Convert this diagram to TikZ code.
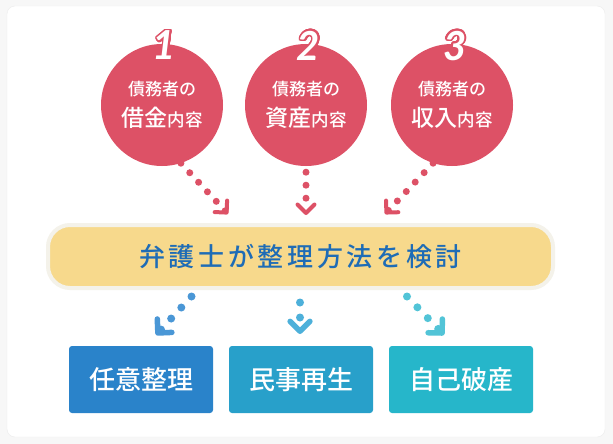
\documentclass[tikz,border=0pt]{standalone}
\usepackage{fontspec}
\setmainfont{Noto Sans CJK JP}[BoldFont={Noto Sans CJK JP Medium}]
\newfontfamily\numfont{Lato}
\usepackage{contour}
\usetikzlibrary{arrows.meta, positioning}
\definecolor{page-gray}{HTML}{F7F7F7}
\definecolor{card-rim}{HTML}{ECECEC}
\definecolor{topic-red}{HTML}{DD5166}
\definecolor{plan-yellow}{HTML}{F7D98C}
\definecolor{plan-rim}{HTML}{F4F2EA}
\definecolor{plan-text}{HTML}{1E6CB6}
\definecolor{way-a}{HTML}{2A83CA}
\definecolor{way-b}{HTML}{28A0CA}
\definecolor{way-c}{HTML}{26B6CA}
\definecolor{dot-a}{HTML}{4A97D6}
\definecolor{dot-b}{HTML}{4DB0DA}
\definecolor{dot-c}{HTML}{52C4D7}
\contourlength{1.6pt}
\contournumber{32}

\begin{document}
\begin{tikzpicture}[x=1pt, y=-1pt]
				\tikzset{card/.style={rectangle, draw=card-rim, fill=white, rounded corners=8pt, minimum width=598pt, minimum height=431pt}}
				\tikzset{topic/.style={circle, fill=topic-red, text=white, minimum size=122pt, inner sep=0pt, align=center, font=\bfseries}}
				\tikzset{num/.style={inner sep=0pt, text=white, font=\numfont\bfseries\itshape\fontsize{40}{40}\selectfont}}
				\tikzset{plan/.style={rectangle, fill=plan-yellow, draw=plan-rim, line width=4pt, rounded corners=22pt, minimum width=505pt, minimum height=63pt, text=plan-text, font=\bfseries\fontsize{26}{26}\selectfont\addfontfeatures{LetterSpace=14}}}
				\tikzset{way/.style={rectangle, rounded corners=3pt, minimum width=144pt, minimum height=67pt, text=white, font=\bfseries\fontsize{26}{26}\selectfont}}
				\tikzset{dotarr/.style={line width=7pt, line cap=round, dash pattern=on 0pt off 13pt, -{Straight Barb[angle=90:12pt, line width'=4pt, round]}}}
				\tikzset{dotarr2/.style={line width=8pt, line cap=round, dash pattern=on 0pt off 15pt, -{Straight Barb[angle=90:14pt, line width'=5.5pt, round]}}}
				
				\fill[page-gray] (0,0) rectangle (613,444);
				\useasboundingbox (0,0) rectangle (613,444);
				\node[card] (card) at (306,221.5) {};
				
				\node[topic] (debt) at (162,105) {\fontsize{17}{20}\selectfont 債務者の\\[9pt]{\fontsize{23}{26}\selectfont 借金}{\fontsize{17.5}{20}\selectfont 内容}};
				\node[topic] (asset) at (306,105) {\fontsize{17}{20}\selectfont 債務者の\\[9pt]{\fontsize{23}{26}\selectfont 資産}{\fontsize{17.5}{20}\selectfont 内容}};
				\node[topic] (income) at (452,105) {\fontsize{17}{20}\selectfont 債務者の\\[9pt]{\fontsize{23}{26}\selectfont 収入}{\fontsize{17.5}{20}\selectfont 内容}};
				\node[num] (n1) at (164.5,46) {\contour{topic-red}{1}};
				\node[num] (n2) at (308.5,46.5) {\contour{topic-red}{2}};
				\node[num] (n3) at (455,46.5) {\contour{topic-red}{3}};
				
				\node[plan] (plan) at (300.5,256.5) {弁護士が整理方法を検討};
				
				\node[way, fill=way-a] (nini) at (141,379.5) {任意整理};
				\node[way, fill=way-b] (minji) at (301,379.5) {民事再生};
				\node[way, fill=way-c] (hasan) at (461,379.5) {自己破産};
				
				\coordinate (t1) at (228,214);
				\coordinate (t2) at (306,215);
				\coordinate (t3) at (385,214);
				\draw[dotarr, topic-red] (debt.-72) -- (t1);
				\draw[dotarr, topic-red] ([yshift=-6pt]asset.south) -- (t2);
				\draw[dotarr, topic-red] (income.-108) -- (t3);
				
				\coordinate (u1) at (156,335);
				\coordinate (u2) at (300,334);
				\coordinate (u3) at (444,335);
				\draw[dotarr2, dot-a] ([xshift=-109pt, yshift=-6.5pt]plan.south) -- (u1);
				\draw[dotarr2, dot-b] ([xshift=-0.5pt, yshift=-12.5pt]plan.south) -- (u2);
				\draw[dotarr2, dot-c] ([xshift=106.5pt, yshift=-6.5pt]plan.south) -- (u3);
\end{tikzpicture}
\end{document}
